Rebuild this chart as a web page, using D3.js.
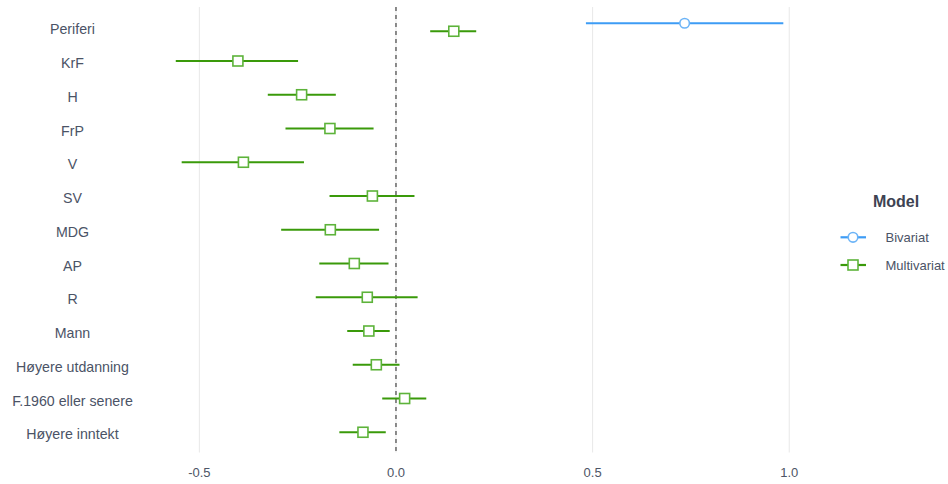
<!DOCTYPE html>
<html>
<head>
<meta charset="utf-8">
<script src="https://cdn.jsdelivr.net/npm/d3@7"></script>
<style>
  body { margin: 0; background: #fff; }
  svg { display: block; font-family: "Liberation Sans", Arial, sans-serif; }
</style>
</head>
<body>
<svg id="chart" width="948" height="484"></svg>
<script>
// ---- Data ----
const categories = ["Periferi", "KrF", "H", "FrP", "V", "SV", "MDG", "AP", "R", "Mann",
  "Høyere utdanning", "F.1960 eller senere", "Høyere inntekt"];
const models = ["Bivariat", "Multivariat"];

// Multivariate estimates with 95% CI
const multiEst   = [0.147, -0.402, -0.240, -0.168, -0.388, -0.060, -0.167, -0.106, -0.073, -0.069, -0.050, 0.022, -0.084];
const multiLower = [0.087, -0.560, -0.326, -0.281, -0.545, -0.169, -0.292, -0.195, -0.204, -0.124, -0.110, -0.035, -0.144];
const multiUpper = [0.204, -0.249, -0.153, -0.057, -0.234, 0.047, -0.043, -0.019, 0.055, -0.016, 0.009, 0.077, -0.026];

// Bivariate estimate (only for Periferi)
const biCats  = ["Periferi"];
const biEst   = [0.734];
const biLower = [0.483];
const biUpper = [0.985];

const xTicks = [-0.5, 0.0, 0.5, 1.0];

// ---- Build rows ----
const rows = [];
biCats.forEach((c, i) => rows.push({cat: c, model: "Bivariat", est: biEst[i], lo: biLower[i], hi: biUpper[i]}));
categories.forEach((c, i) => rows.push({cat: c, model: "Multivariat", est: multiEst[i], lo: multiLower[i], hi: multiUpper[i]}));

// ---- Layout ----
const svg = d3.select("#chart");
const plot = {left: 145.4, right: 813.7, top: 7, bottom: 452.5};

const lo = d3.min(rows, d => d.lo), hi = d3.max(rows, d => d.hi);
const pad = (hi - lo) * 0.05;
const x = d3.scaleLinear().domain([lo - pad, hi + pad]).range([plot.left, plot.right]);
const y = d3.scalePoint().domain(categories).range([plot.top, plot.bottom]).padding(0.6);

const color = {Bivariat: "#3d9cf5", Multivariat: "#3a9a0a"};
const pointStroke = {Bivariat: "#6cb4f7", Multivariat: "#5db33a"};

// Dodge: count models per category
const perCat = d3.group(rows, d => d.cat);
const dodge = 8;
function yPos(d) {
  const g = perCat.get(d.cat);
  if (g.length === 1) return y(d.cat);
  const idx = models.indexOf(d.model);
  return y(d.cat) + (idx - (models.length - 1) / 2) * dodge;
}

// Gridlines
svg.append("g").selectAll("line").data(xTicks).join("line")
  .attr("x1", d => x(d)).attr("x2", d => x(d))
  .attr("y1", plot.top).attr("y2", plot.bottom)
  .attr("stroke", "#e8e8e8").attr("stroke-width", 1);

// Zero line dashed
svg.append("line")
  .attr("x1", x(0)).attr("x2", x(0))
  .attr("y1", plot.top).attr("y2", plot.bottom)
  .attr("stroke", "#222").attr("stroke-width", 1)
  .attr("stroke-dasharray", "4,4");

// Error bars
svg.append("g").selectAll("line").data(rows).join("line")
  .attr("x1", d => x(d.lo)).attr("x2", d => x(d.hi))
  .attr("y1", yPos).attr("y2", yPos)
  .attr("stroke", d => color[d.model]).attr("stroke-width", 2.2);

// Points
const s = 10;
svg.append("g").selectAll("rect").data(rows.filter(d => d.model === "Multivariat")).join("rect")
  .attr("x", d => x(d.est) - s / 2).attr("y", d => yPos(d) - s / 2)
  .attr("width", s).attr("height", s)
  .attr("fill", "#fff").attr("stroke", d => pointStroke[d.model]).attr("stroke-width", 1.6);
svg.append("g").selectAll("circle").data(rows.filter(d => d.model === "Bivariat")).join("circle")
  .attr("cx", d => x(d.est)).attr("cy", yPos).attr("r", 4.8)
  .attr("fill", "#fff").attr("stroke", d => pointStroke[d.model]).attr("stroke-width", 1.6);

// Y labels
svg.append("g").selectAll("text").data(categories).join("text")
  .attr("x", 72.5).attr("y", d => y(d) + 2)
  .attr("text-anchor", "middle").attr("dominant-baseline", "central")
  .attr("font-size", 14.2).attr("fill", "#4b5366")
  .text(d => d);

// X tick labels
svg.append("g").selectAll("text").data(xTicks).join("text")
  .attr("x", d => x(d)).attr("y", 472.5)
  .attr("text-anchor", "middle").attr("dominant-baseline", "central")
  .attr("font-size", 13).attr("fill", "#4d5566")
  .text(d => d3.format(".1f")(d).replace("−", "-"));

// Legend
const lg = svg.append("g");
lg.append("text").attr("x", 896).attr("y", 201)
  .attr("text-anchor", "middle").attr("dominant-baseline", "central")
  .attr("font-size", 16).attr("font-weight", "bold").attr("fill", "#3d4352")
  .text("Model");
const legY = {Bivariat: 237.3, Multivariat: 265};
models.forEach(m => {
  const ly = legY[m];
  lg.append("line").attr("x1", 840.5).attr("x2", 866).attr("y1", ly).attr("y2", ly)
    .attr("stroke", color[m]).attr("stroke-width", 2.2);
  if (m === "Bivariat") {
    lg.append("circle").attr("cx", 853).attr("cy", ly).attr("r", 4.8)
      .attr("fill", "#fff").attr("stroke", pointStroke[m]).attr("stroke-width", 1.6);
  } else {
    lg.append("rect").attr("x", 853 - s / 2).attr("y", ly - s / 2).attr("width", s).attr("height", s)
      .attr("fill", "#fff").attr("stroke", pointStroke[m]).attr("stroke-width", 1.6);
  }
  lg.append("text").attr("x", 885.5).attr("y", ly)
    .attr("dominant-baseline", "central").attr("font-size", 13).attr("fill", "#4b5366")
    .text(m);
});
</script>
</body>
</html>
